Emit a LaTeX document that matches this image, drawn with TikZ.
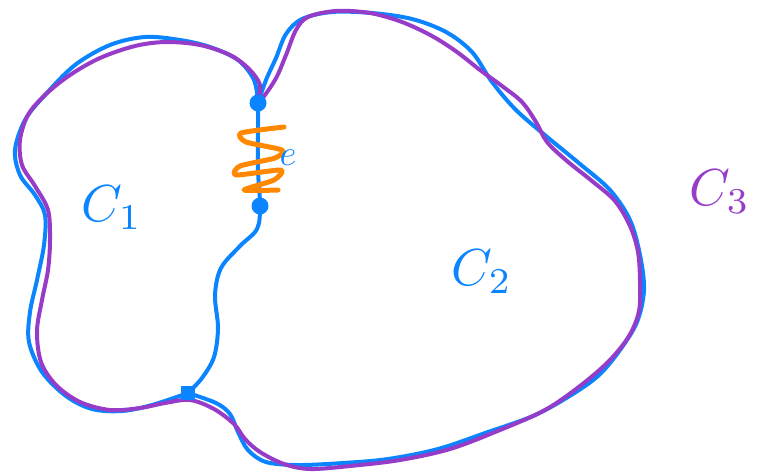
\documentclass[tikz,border=0pt]{standalone}
\usepackage{tikz}
\usetikzlibrary{positioning}
\definecolor{penblue}{RGB}{10,132,255}
\definecolor{penpurple}{RGB}{150,60,200}
\definecolor{penorange}{RGB}{255,136,0}

\begin{document}
\begin{tikzpicture}[
  x=1pt, y=-1pt,
  pen/.style={line width=4pt, line cap=round, line join=round},
  vtx/.style={circle, fill=penblue, inner sep=0pt, minimum size=17pt},
  lbl/.style={inner sep=0pt}
]
\useasboundingbox (0,0) rectangle (778,475);
\coordinate (top) at (258,103);
\coordinate (mid) at (260,206);
\coordinate (bot) at (188,393);
% left loop C1
\draw[pen, penblue] plot[smooth, tension=0.55] coordinates {(top) (254,80) (238,60) (210,47) (180,40) (145,37) (110,45) (75,65) (45,95) (25,120) (15,150) (20,175) (35,195) (45,215) (44,245) (37,280) (30,312) (29,342) (42,372) (66,396) (92,409) (122,411) (152,405) (bot)};
% shared edge
\draw[pen, penblue] plot[smooth, tension=0.55] coordinates {(bot) (202,378) (214,357) (218,328) (215,295) (221,268) (240,246) (257,229) (mid) (258,170) (258,130) (top)};
% right loop C2
\draw[pen, penblue] plot[smooth, tension=0.55] coordinates {(top) (266,80) (276,58) (286,34) (302,19) (332,12) (372,13) (412,19) (446,32) (472,52) (492,82) (516,110) (546,136) (580,164) (610,190) (630,220) (640,255) (644,290) (637,322) (620,350) (598,376) (568,397) (533,416) (488,432) (438,449) (388,459) (343,463) (298,465) (266,462) (248,450) (238,432) (230,414) (216,403) (bot)};
% outer curve C3
\draw[pen, penpurple] plot[smooth cycle, tension=0.55] coordinates {(top) (275,80) (286,55) (296,30) (308,17) (336,11) (370,13) (402,22) (432,36) (457,52) (480,70) (502,86) (522,102) (536,122) (547,142) (567,161) (592,181) (615,201) (630,226) (638,252) (640,282) (639,311) (629,336) (609,361) (580,386) (545,410) (500,430) (450,449) (400,460) (350,466) (310,469) (284,464) (260,452) (245,439) (234,424) (214,409) (190,400) (165,403) (140,408) (110,410) (80,402) (56,385) (41,362) (37,331) (42,300) (48,270) (50,240) (48,210) (35,186) (22,165) (20,140) (28,115) (45,95) (70,75) (100,58) (135,46) (166,42) (200,45) (230,55) (249,69) (260,85)};
% spring on the shared edge
\draw[pen, line width=5pt, penorange] plot[smooth, tension=0.4] coordinates {(284,127) (241,133) (246,142) (282,150) (275,158) (240,166) (236,175) (281,170) (274,180) (244,190) (278,190)};
\node[vtx] (vtop) at (top) {};
\node[vtx] (vmid) at (mid) {};
\node[vtx, rectangle, minimum size=14pt] (vbot) at (bot) {};
\node[lbl, text=penblue] (elbl) at (288,158) {\scalebox{3.6}{$e$}};
\node[lbl, text=penblue] (cone) at (112,208) {\scalebox{5.2}{$C_1$}};
\node[lbl, text=penblue] (ctwo) at (482,272) {\scalebox{5.2}{$C_2$}};
\node[lbl, text=penpurple] (cthree) at (720,192) {\scalebox{5.2}{$C_3$}};
\end{tikzpicture}
\end{document}
